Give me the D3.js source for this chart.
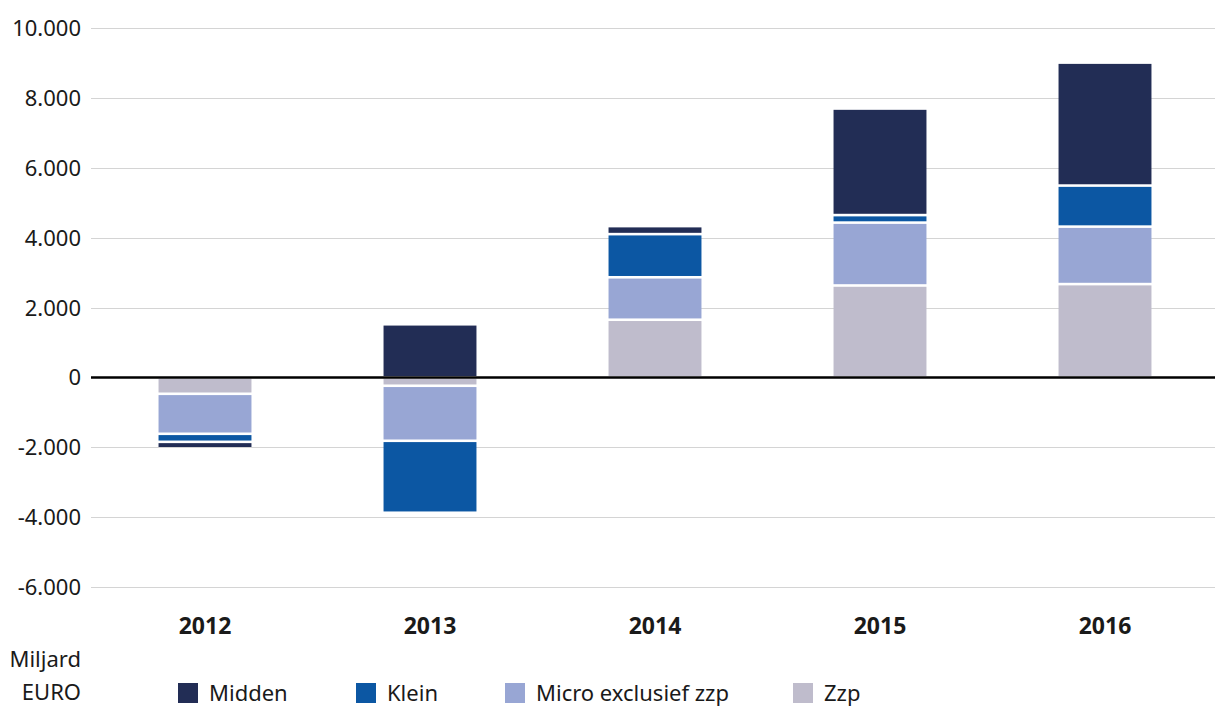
<!DOCTYPE html>
<html>
<head>
<meta charset="utf-8">
<script src="https://cdn.jsdelivr.net/npm/d3@7"></script>
<style>
  body { margin: 0; background: #fff; }
  svg text { font-family: "Noto Sans", sans-serif; fill: #1a1a1a; }
  .tick-label { font-size: 22px; }
  .year-label { font-size: 23px; font-weight: bold; }
  .legend-label { font-size: 22px; }
</style>
</head>
<body>
<svg width="1215" height="709"></svg>
<script>
const years = ['2012', '2013', '2014', '2015', '2016'];
const keys = ['Zzp', 'Micro exclusief zzp', 'Klein', 'Midden'];   // stacking order from zero outwards
const zzp    = [-470, -240, 1650, 2630, 2670];
const micro  = [-1145, -1575, 1215, 1800, 1645];
const klein  = [-230, -2060, 1235, 215, 1175];
const midden = [-185, 1520, 230, 3050, 3520];
const yTicks = [-6000, -4000, -2000, 0, 2000, 4000, 6000, 8000, 10000];
const legendOrder = ['Midden', 'Klein', 'Micro exclusief zzp', 'Zzp'];
const colors = {
  'Midden': '#222d55',
  'Klein': '#0c57a3',
  'Micro exclusief zzp': '#98a6d4',
  'Zzp': '#bfbccc'
};

const svg = d3.select('svg');

const data = years.map((y, i) => ({
  year: y,
  'Zzp': zzp[i],
  'Micro exclusief zzp': micro[i],
  'Klein': klein[i],
  'Midden': midden[i]
}));

const series = d3.stack()
  .keys(keys)
  .offset(d3.stackOffsetDiverging)(data);

const xScale = d3.scaleBand()
  .domain(years)
  .range([92.5, 1217.5])
  .paddingInner(0.587)
  .paddingOuter(0.2935);

const yScale = d3.scaleLinear()
  .domain([-6000, 10000])
  .range([587, 28]);

const fmt = v => v === 0 ? '0' : d3.format(',')(v).replace(/,/g, '.').replace('−', '-');

// gridlines + tick labels
const grid = svg.append('g');
grid.selectAll('line')
  .data(yTicks.filter(t => t !== 0))
  .enter().append('line')
    .attr('x1', 91).attr('x2', 1215)
    .attr('y1', d => Math.round(yScale(d)) + 0.5)
    .attr('y2', d => Math.round(yScale(d)) + 0.5)
    .attr('stroke', '#d4d4d4')
    .attr('stroke-width', 1);

grid.selectAll('text')
  .data(yTicks)
  .enter().append('text')
    .attr('class', 'tick-label')
    .attr('x', 81)
    .attr('y', d => yScale(d) + 8)
    .attr('text-anchor', 'end')
    .text(fmt);

// bars
const gap = 1.3;
svg.append('g')
  .selectAll('g')
  .data(series).enter()
  .append('g')
    .attr('fill', d => colors[d.key])
  .selectAll('rect')
  .data(d => d).enter()
  .append('rect')
    .attr('x', d => xScale(d.data.year))
    .attr('width', xScale.bandwidth())
    .attr('y', d => Math.min(yScale(d[0]), yScale(d[1])) + gap)
    .attr('height', d => Math.max(0, Math.abs(yScale(d[0]) - yScale(d[1])) - 2 * gap));

// zero line
svg.append('line')
  .attr('x1', 91).attr('x2', 1215)
  .attr('y1', yScale(0)).attr('y2', yScale(0))
  .attr('stroke', '#000')
  .attr('stroke-width', 2.5);

// year labels
svg.append('g')
  .selectAll('text')
  .data(years).enter()
  .append('text')
    .attr('class', 'year-label')
    .attr('x', d => xScale(d) + xScale.bandwidth() / 2)
    .attr('y', 634)
    .attr('text-anchor', 'middle')
    .text(d => d);

// unit label
svg.append('text').attr('class', 'tick-label')
  .attr('x', 81).attr('y', 667).attr('text-anchor', 'end').text('Miljard');
svg.append('text').attr('class', 'tick-label')
  .attr('x', 81).attr('y', 700).attr('text-anchor', 'end').text('EURO');

// legend
const legendX = [178, 356, 505, 793];
const legend = svg.append('g')
  .selectAll('g')
  .data(legendOrder).enter()
  .append('g')
    .attr('transform', (d, i) => `translate(${legendX[i]},683)`);
legend.append('rect')
  .attr('width', 20).attr('height', 20)
  .attr('fill', d => colors[d]);
legend.append('text')
  .attr('class', 'legend-label')
  .attr('x', 31).attr('y', 18)
  .text(d => d);
</script>
</body>
</html>
